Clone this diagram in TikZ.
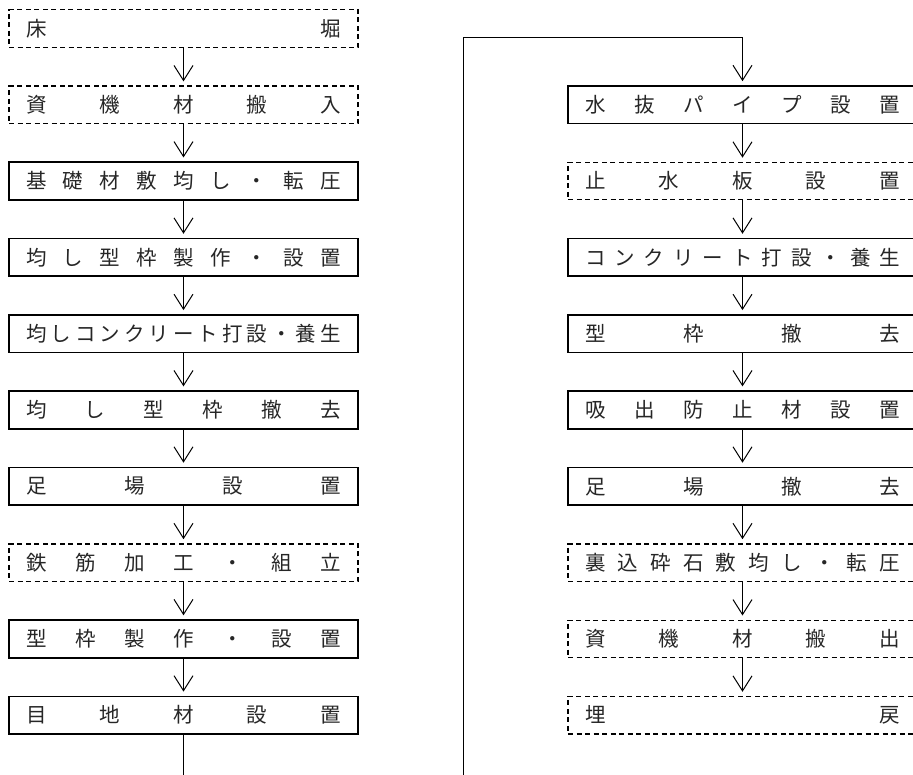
\documentclass[tikz,border=0pt]{standalone}
\usepackage{fontspec}
\newfontfamily\jp{Noto Sans CJK JP}
\usetikzlibrary{arrows.meta}
\ExplSyntaxOn
\NewDocumentCommand\spread{m}{\makebox[315pt][s]{\tl_map_inline:nn{#1}{##1\hfill}\unskip}}
\ExplSyntaxOff
\tikzset{
  stepbox/.style={draw, line width=1.7pt, minimum width=349pt, minimum height=37.5pt, inner sep=0pt,
    font=\jp\fontsize{20.5}{21}\selectfont, text=black!85},
  dbox/.style={stepbox, line width=1.3pt, dash pattern=on 5pt off 3.5pt},
  flow/.style={-{Straight Barb[length=15pt,width=19pt]}, line width=1pt, shorten >=4pt},
}
\begin{document}
\begin{tikzpicture}[x=1pt,y=-1pt]
\useasboundingbox (0,0) rectangle (913,775);
\clip (0,0) rectangle (913,775);
% left column
\node[dbox]    (L0) at (183.5, 28.5) {\spread{床堀}};
\node[dbox]    (L1) at (183.5,104.8) {\spread{資機材搬入}};
\node[stepbox] (L2) at (183.5,181.1) {\spread{基礎材敷均し・転圧}};
\node[stepbox] (L3) at (183.5,257.4) {\spread{均し型枠製作・設置}};
\node[stepbox] (L4) at (183.5,333.7) {\spread{均しコンクリート打設・養生}};
\node[stepbox] (L5) at (183.5,410.0) {\spread{均し型枠撤去}};
\node[stepbox] (L6) at (183.5,486.3) {\spread{足場設置}};
\node[dbox]    (L7) at (183.5,562.6) {\spread{鉄筋加工・組立}};
\node[stepbox] (L8) at (183.5,638.9) {\spread{型枠製作・設置}};
\node[stepbox] (L9) at (183.5,715.2) {\spread{目地材設置}};
% right column
\node[stepbox] (R0) at (742.5,104.8) {\spread{水抜パイプ設置}};
\node[dbox]    (R1) at (742.5,181.1) {\spread{止水板設置}};
\node[stepbox] (R2) at (742.5,257.4) {\spread{コンクリート打設・養生}};
\node[stepbox] (R3) at (742.5,333.7) {\spread{型枠撤去}};
\node[stepbox] (R4) at (742.5,410.0) {\spread{吸出防止材設置}};
\node[stepbox] (R5) at (742.5,486.3) {\spread{足場撤去}};
\node[dbox]    (R6) at (742.5,562.6) {\spread{裏込砕石敷均し・転圧}};
\node[dbox]    (R7) at (742.5,638.9) {\spread{資機材搬出}};
\node[dbox]    (R8) at (742.5,715.2) {\spread{埋戻}};
% connectors
\foreach \a/\b in {L0/L1,L1/L2,L2/L3,L3/L4,L4/L5,L5/L6,L6/L7,L7/L8,L8/L9,
                   R0/R1,R1/R2,R2/R3,R3/R4,R4/R5,R5/R6,R6/R7,R7/R8}
  \draw[flow] (\a.south) -- (\b.north);
\coordinate (b1) at (183.5,800);
\coordinate (b2) at (463,800);
\coordinate (t1) at (463,38);
\coordinate (t2) at (742.5,38);
\draw[flow] (L9.south) -- (b1) -- (b2) -- (t1) -- (t2) -- (R0.north);
\end{tikzpicture}
\end{document}
